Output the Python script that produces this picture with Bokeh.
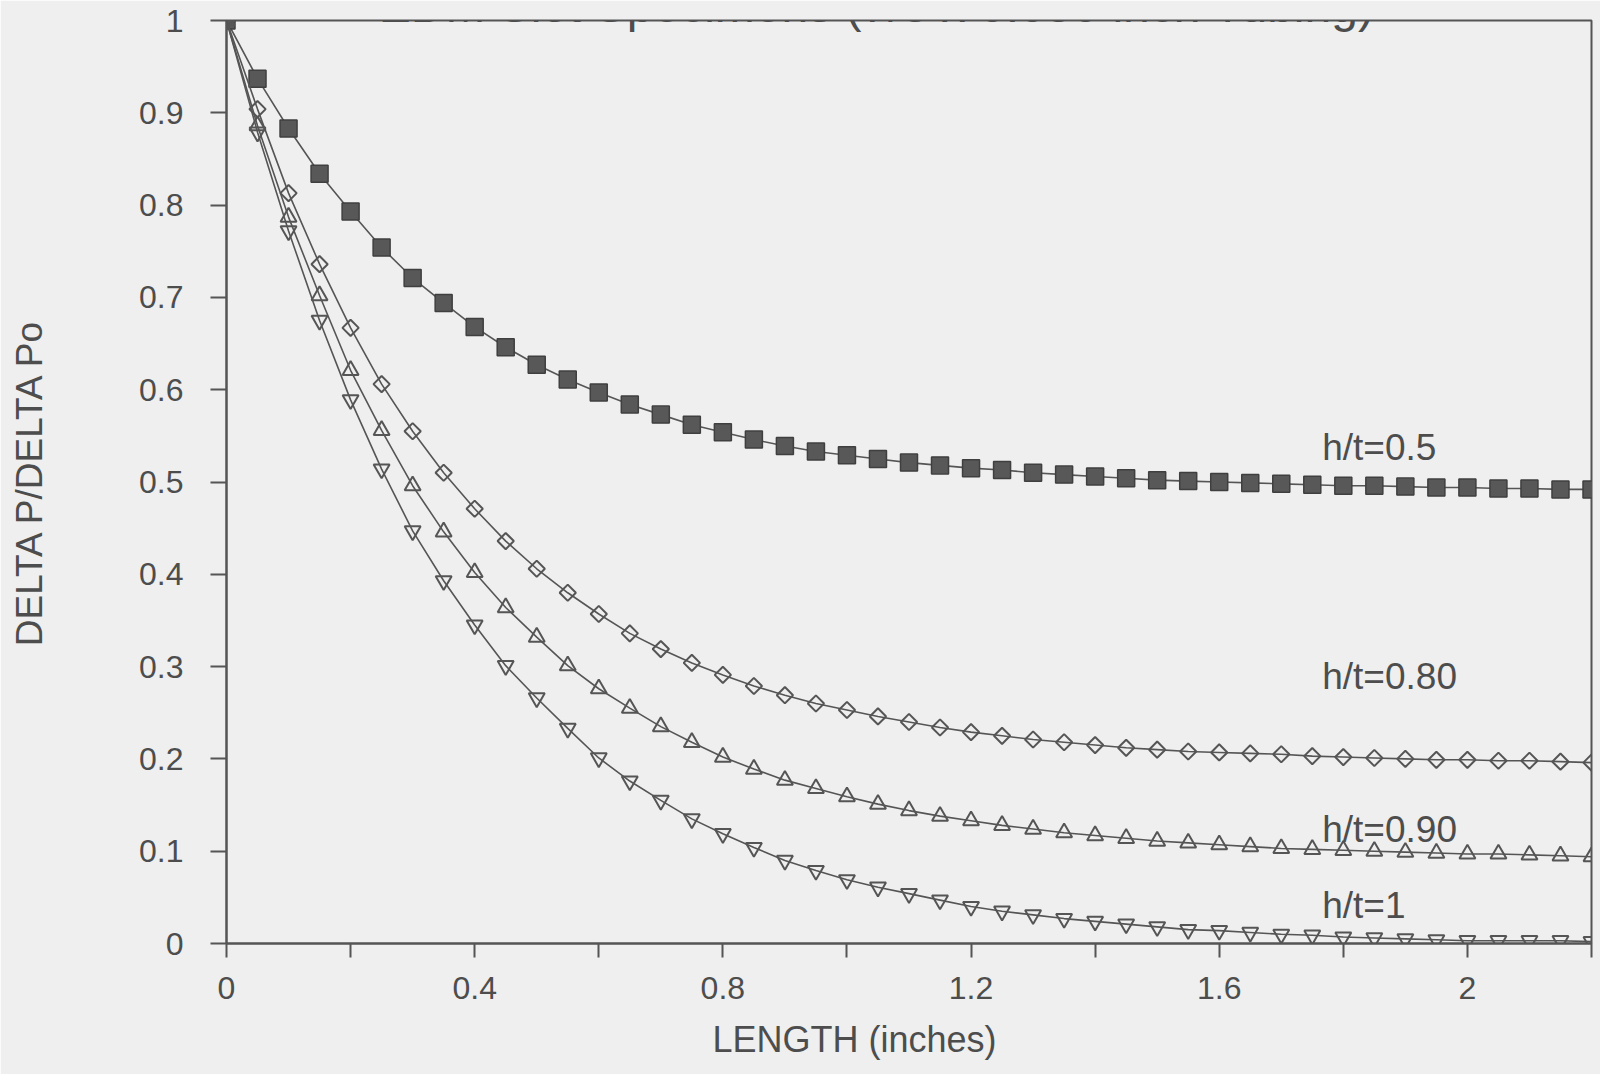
import math
from bokeh.plotting import figure
from bokeh.models import Range1d, FixedTicker, Label, Title
from bokeh.embed import file_html
from bokeh.resources import INLINE

# ---------------- data ----------------
length_in = [0.00, 0.05, 0.10, 0.15, 0.20, 0.25, 0.30, 0.35, 0.40, 0.45,
             0.50, 0.55, 0.60, 0.65, 0.70, 0.75, 0.80, 0.85, 0.90, 0.95,
             1.00, 1.05, 1.10, 1.15, 1.20, 1.25, 1.30, 1.35, 1.40, 1.45,
             1.50, 1.55, 1.60, 1.65, 1.70, 1.75, 1.80, 1.85, 1.90, 1.95,
             2.00, 2.05, 2.10, 2.15, 2.20]

ht_050 = [1.000, 0.937, 0.883, 0.834, 0.793, 0.754, 0.721, 0.694, 0.668, 0.646,
          0.627, 0.611, 0.597, 0.584, 0.573, 0.562, 0.554, 0.546, 0.539, 0.533,
          0.529, 0.525, 0.521, 0.518, 0.515, 0.513, 0.510, 0.508, 0.506, 0.504,
          0.502, 0.501, 0.500, 0.499, 0.498, 0.497, 0.496, 0.496, 0.495, 0.494,
          0.494, 0.493, 0.493, 0.492, 0.492]

ht_080 = [1.000, 0.904, 0.813, 0.736, 0.667, 0.606, 0.555, 0.510, 0.471, 0.436,
          0.406, 0.380, 0.357, 0.336, 0.319, 0.304, 0.291, 0.279, 0.269, 0.260,
          0.253, 0.246, 0.240, 0.234, 0.229, 0.225, 0.221, 0.218, 0.215, 0.212,
          0.210, 0.208, 0.207, 0.206, 0.205, 0.203, 0.202, 0.201, 0.200, 0.199,
          0.199, 0.198, 0.198, 0.197, 0.196]

ht_090 = [1.000, 0.886, 0.787, 0.702, 0.621, 0.556, 0.496, 0.446, 0.402, 0.364,
          0.332, 0.301, 0.276, 0.255, 0.235, 0.218, 0.202, 0.189, 0.177, 0.168,
          0.159, 0.151, 0.144, 0.138, 0.133, 0.128, 0.124, 0.120, 0.117, 0.114,
          0.111, 0.109, 0.107, 0.105, 0.103, 0.102, 0.101, 0.100, 0.099, 0.098,
          0.097, 0.097, 0.096, 0.095, 0.094]

ht_100 = [1.000, 0.879, 0.772, 0.675, 0.589, 0.514, 0.447, 0.393, 0.345, 0.301,
          0.266, 0.233, 0.201, 0.176, 0.155, 0.135, 0.119, 0.104, 0.090, 0.079,
          0.069, 0.061, 0.054, 0.047, 0.040, 0.035, 0.031, 0.027, 0.024, 0.021,
          0.018, 0.015, 0.014, 0.012, 0.010, 0.009, 0.007, 0.006, 0.005, 0.004,
          0.003, 0.003, 0.003, 0.003, 0.002]

x_ticks = [0, 0.4, 0.8, 1.2, 1.6, 2]
x_tick_labels = ["0", "0.4", "0.8", "1.2", "1.6", "2"]
x_minor_ticks = [0.2, 0.6, 1.0, 1.4, 1.8, 2.2]
y_ticks = [0, 0.1, 0.2, 0.3, 0.4, 0.5, 0.6, 0.7, 0.8, 0.9, 1]
y_tick_labels = ["0", "0.1", "0.2", "0.3", "0.4", "0.5", "0.6", "0.7", "0.8", "0.9", "1"]

series_labels = ["h/t=0.5", "h/t=0.80", "h/t=0.90", "h/t=1"]
label_y = [0.5377, 0.289, 0.1234, 0.0415]

title_text = "EDM Slot Specimens (7/8 x 0.050 inch Tubing)"
x_title = "LENGTH (inches)"
y_title = "DELTA P/DELTA Po"

# ---------------- style ----------------
BG = "#efefef"
INK = "#4d4d4d"
LINE = "#555555"
FONT = "Liberation Sans"

p = figure(width=1600, height=1074,
           x_range=Range1d(0, 2.2), y_range=Range1d(0, 1.0),
           output_backend="svg", toolbar_location=None,
           min_border_left=226, min_border_right=9,
           min_border_top=20, min_border_bottom=130)

p.background_fill_color = BG
p.border_fill_color = BG
p.outline_line_color = LINE
p.outline_line_width = 2
p.grid.visible = False

xa = p.xaxis[0]
xa.ticker = FixedTicker(ticks=x_ticks, minor_ticks=x_minor_ticks)
xa.major_label_overrides = dict(zip(x_ticks, x_tick_labels))
xa.major_tick_in = 0
xa.major_tick_out = 14
xa.minor_tick_in = 0
xa.minor_tick_out = 14
xa.minor_tick_line_color = LINE
xa.minor_tick_line_width = 2
xa.major_label_standoff = 19

ya = p.yaxis[0]
ya.ticker = FixedTicker(ticks=y_ticks)
ya.major_label_overrides = dict(zip(y_ticks, y_tick_labels))
ya.major_tick_in = 0
ya.major_tick_out = 16
ya.minor_tick_line_color = None
ya.major_label_standoff = 27
ya.axis_label = y_title
ya.axis_label_standoff = 86
ya.axis_label_text_font_size = "37px"

for ax in (xa, ya):
    ax.axis_line_color = LINE
    ax.axis_line_width = 2
    ax.major_tick_line_color = LINE
    ax.major_tick_line_width = 2
    ax.major_label_text_font = FONT
    ax.major_label_text_font_size = "32px"
    ax.major_label_text_color = INK
    ax.axis_label_text_font = FONT
    ax.axis_label_text_font_style = "normal"
    ax.axis_label_text_color = INK

# x axis title, placed below the axis, left part of the frame as in the original
p.add_layout(Title(text=x_title, align="left", offset=486, standoff=30,
                   text_font=FONT, text_font_size="36px",
                   text_font_style="normal", text_color=INK), "below")

# series
p.line(length_in, ht_050, line_color=LINE, line_width=1.6)
p.scatter(length_in, ht_050, marker="square", size=17,
          fill_color="#585858", line_color="#3f3f3f", line_width=1.5)

p.line(length_in, ht_080, line_color=LINE, line_width=1.6)
p.scatter(length_in, ht_080, marker="square", angle=math.pi / 4, size=11.5,
          fill_color=None, line_color=LINE, line_width=2)

p.line(length_in, ht_090, line_color=LINE, line_width=1.6)
p.scatter(length_in, ht_090, marker="triangle", size=16,
          fill_color=None, line_color=LINE, line_width=2)

p.line(length_in, ht_100, line_color=LINE, line_width=1.6)
p.scatter(length_in, ht_100, marker="inverted_triangle", size=16,
          fill_color=None, line_color=LINE, line_width=2)

# series annotations
for txt, yy in zip(series_labels, label_y):
    p.add_layout(Label(x=1.766, y=yy, text=txt, text_font=FONT,
                       text_font_size="37px", text_color=INK,
                       text_align="left", text_baseline="middle"))

# chart title (cut by the top edge, as in the scanned original)
p.add_layout(Label(x=1.048, y=1.0163, text=title_text, text_font=FONT,
                   text_font_size="48px", text_color=INK,
                   text_align="center", text_baseline="alphabetic"))

open("out.html", "w").write(file_html(p, INLINE))
